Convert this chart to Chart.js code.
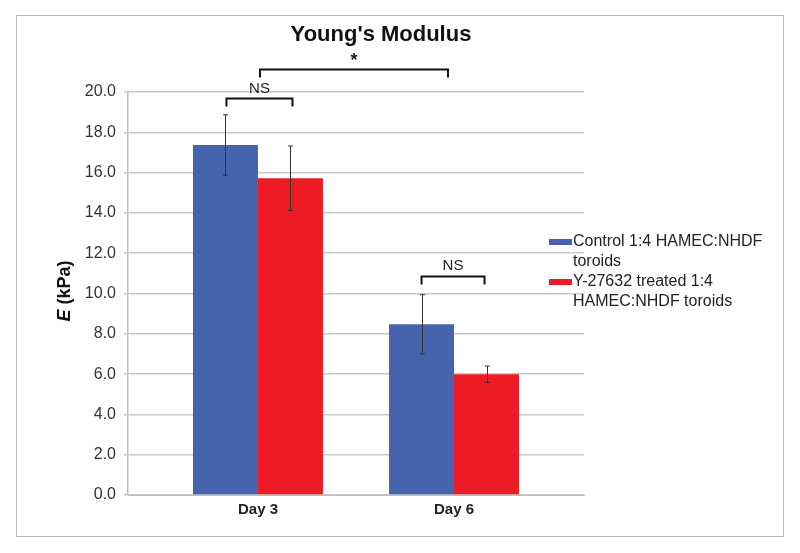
<!DOCTYPE html>
<html><head><meta charset="utf-8">
<script src="https://cdn.jsdelivr.net/npm/chart.js@4/dist/chart.umd.min.js"></script>
<style>
html,body{margin:0;padding:0;background:#fff;}
#wrap{position:relative;width:800px;height:553px;}
#frame{position:absolute;left:16px;top:15px;width:766px;height:520px;border:1.5px solid #bdbdbd;}
canvas{position:absolute;left:0;top:0;}
</style></head>
<body><div id="wrap"><div id="frame"></div><canvas id="c" width="800" height="553"></canvas></div>
<script>
const categories = ['Day 3', 'Day 6'];
const seriesNames = [['Control 1:4 HAMEC:NHDF', 'toroids'], ['Y-27632 treated 1:4', 'HAMEC:NHDF toroids']];
const controlValues = [17.37, 8.47];
const controlErrors = [1.5, 1.47];
const treatedValues = [15.72, 5.99];
const treatedErrors = [1.6, 0.41];
const yTicks = [0, 2, 4, 6, 8, 10, 12, 14, 16, 18, 20];
const colors = ['#4664ae', '#ed1c24'];
const FONT = '"Liberation Sans", Arial, sans-serif';

const values = [controlValues, treatedValues];
const errors = [controlErrors, treatedErrors];

const overlay = {
  id: 'overlay',
  afterDatasetsDraw(chart) {
    const ctx = chart.ctx, xs = chart.scales.x, ys = chart.scales.y;
    ctx.save();
    // error bars
    ctx.strokeStyle = '#333';
    ctx.lineWidth = 1;
    chart.data.datasets.forEach((ds, di) => {
      const meta = chart.getDatasetMeta(di);
      meta.data.forEach((bar, i) => {
        const v = values[di][i], e = errors[di][i];
        const x = Math.round(bar.x) + 0.5;
        const yt = ys.getPixelForValue(v + e), yb = ys.getPixelForValue(v - e);
        ctx.beginPath();
        ctx.moveTo(x, yt); ctx.lineTo(x, yb);
        ctx.moveTo(x - 2.5, yt); ctx.lineTo(x + 2.5, yt);
        ctx.moveTo(x - 2.5, yb); ctx.lineTo(x + 2.5, yb);
        ctx.stroke();
      });
    });
    // significance brackets
    const m0 = chart.getDatasetMeta(0).data, m1 = chart.getDatasetMeta(1).data;
    function bracket(x1, x2, yv, label, font, dy) {
      const y = Math.round(ys.getPixelForValue(yv)) + 0.5;
      ctx.strokeStyle = '#111';
      ctx.lineWidth = 2;
      ctx.beginPath();
      ctx.moveTo(x1, y + 8); ctx.lineTo(x1, y); ctx.lineTo(x2, y); ctx.lineTo(x2, y + 8);
      ctx.stroke();
      ctx.fillStyle = '#222';
      ctx.font = font;
      ctx.textAlign = 'center';
      ctx.textBaseline = 'middle';
      ctx.fillText(label, (x1 + x2) / 2, y + dy);
    }
    bracket(m0[0].x + 1, m1[0].x + 2, 19.69, 'NS', '15px ' + FONT, -10);
    bracket(m0[1].x, m1[1].x - 2, 10.87, 'NS', '15px ' + FONT, -11);
    bracket(xs.getPixelForValue(0) + 2, xs.getPixelForValue(1) - 6, 21.13, '*', 'bold 18px ' + FONT, -8);
    // title
    ctx.fillStyle = '#111';
    ctx.font = 'bold 22px ' + FONT;
    ctx.textAlign = 'center';
    ctx.textBaseline = 'middle';
    ctx.fillText("Young's Modulus", 381, 35);
    // y axis title
    ctx.save();
    ctx.translate(65, 291);
    ctx.rotate(-Math.PI / 2);
    ctx.textBaseline = 'middle';
    ctx.textAlign = 'left';
    ctx.font = 'italic bold 18px ' + FONT;
    const w1 = ctx.measureText('E').width;
    ctx.font = 'bold 18px ' + FONT;
    const w2 = ctx.measureText(' (kPa)').width;
    const sx = -(w1 + w2) / 2;
    ctx.font = 'italic bold 18px ' + FONT;
    ctx.fillText('E', sx, 0);
    ctx.font = 'bold 18px ' + FONT;
    ctx.fillText(' (kPa)', sx + w1, 0);
    ctx.restore();
    // legend
    ctx.font = '16px ' + FONT;
    ctx.textAlign = 'left';
    ctx.textBaseline = 'middle';
    const ly = [242, 282];
    seriesNames.forEach((lines, i) => {
      ctx.fillStyle = colors[i];
      ctx.fillRect(549, ly[i] - 3, 23, 6);
      ctx.fillStyle = '#222';
      lines.forEach((t, k) => ctx.fillText(t, 573, ly[i] + k * 19.5));
    });
    ctx.restore();
  }
};

new Chart(document.getElementById('c'), {
  type: 'bar',
  data: {
    datasets: values.map((arr, di) => ({
      label: seriesNames[di].join(' '),
      data: arr.map((v, i) => ({ x: i, y: v })),
      backgroundColor: colors[di],
      borderWidth: 0,
      categoryPercentage: 0.663,
      barPercentage: 1
    }))
  },
  options: {
    responsive: false,
    animation: false,
    layout: { padding: { top: 92, right: 216, bottom: 28, left: 0 } },
    plugins: { legend: { display: false }, tooltip: { enabled: false } },
    scales: {
      x: {
        type: 'linear',
        min: -0.663,
        max: 1.663,
        offset: false,
        grid: { display: false, offset: false, drawTicks: false },
        border: { display: true, color: '#bdbdbd', width: 1 },
        afterBuildTicks: (s) => { s.ticks = categories.map((c, i) => ({ value: i })); },
        afterFit: (s) => { s.height = 30; },
        ticks: {
          callback: (v) => categories[v] !== undefined ? categories[v] : '',
          font: { family: FONT, size: 15, weight: 'bold' },
          color: '#222',
          padding: 6,
          maxRotation: 0,
          autoSkip: false
        }
      },
      y: {
        min: 0,
        max: 20,
        afterBuildTicks: (s) => { s.ticks = yTicks.map(v => ({ value: v })); },
        afterFit: (s) => { s.width = 128; },
        grid: { color: '#c9c9c9', lineWidth: 1.5, tickLength: 4 },
        border: { display: true, color: '#bdbdbd', width: 1.5 },
        ticks: {
          callback: (v) => Number(v).toFixed(1),
          font: { family: FONT, size: 16 },
          color: '#333',
          padding: 8
        }
      }
    }
  },
  plugins: [overlay]
});
</script>
</body></html>
